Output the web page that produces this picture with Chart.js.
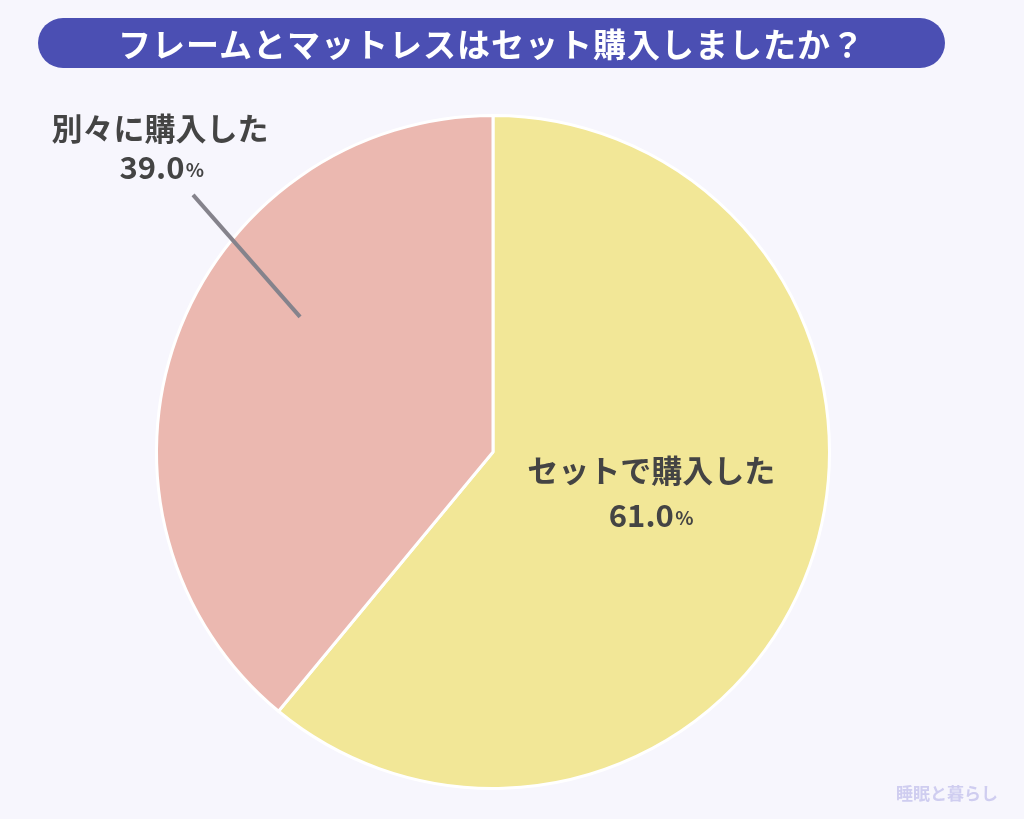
<!DOCTYPE html>
<html><head><meta charset="utf-8">
<script src="https://cdn.jsdelivr.net/npm/chart.js@4"></script>
<style>
body{margin:0;background:#f7f6fd;font-family:"Noto Sans CJK JP",sans-serif;}
#wrap{position:relative;width:1024px;height:819px;}
#title{position:absolute;left:38px;top:18px;width:907px;height:50px;border-radius:25px;background:#4b4fb3;color:#fff;font-weight:bold;font-size:33px;line-height:50px;text-align:center;letter-spacing:1px;}
#mark{position:absolute;left:896px;top:780px;color:#cfcdf0;font-size:17px;font-weight:bold;}
</style></head><body>
<div id="wrap">
<canvas id="c" width="1024" height="819"></canvas>
<div id="title">フレームとマットレスはセット購入しましたか？</div>
<div id="mark">睡眠と暮らし</div>
</div>
<script>
const categories = ["セットで購入した", "別々に購入した"];
const values = [61.0, 39.0];
const colors = ["#f2e797", "#ebb8b0"];

const labelPlugin = {
  id: "labels",
  afterDraw(chart) {
    const ctx = chart.ctx;
    const arcs = chart.getDatasetMeta(0).data;
    ctx.save();
    ctx.fillStyle = "#444";
    ctx.textAlign = "center";
    ctx.textBaseline = "middle";
    // inside label for first slice
    const a = arcs[0];
    const mid = (a.startAngle + a.endAngle) / 2;
    const r = a.outerRadius * 0.5;
    const x = a.x + r * Math.cos(mid), y = a.y + r * Math.sin(mid) - 18;
    ctx.font = "bold 31px 'Noto Sans CJK JP'";
    ctx.fillText(categories[0], x, y - 21);
    ctx.fillText(values[0].toFixed(1), x - 10, y + 24);
    ctx.font = "bold 19px 'Noto Sans CJK JP'";
    ctx.fillText("%", x + 33, y + 27);
    // outside label for second slice with leader line
    const b = arcs[1];
    const ang = 215 * Math.PI / 180;
    const x0 = b.x + b.outerRadius * 0.7 * Math.cos(ang), y0 = b.y + b.outerRadius * 0.7 * Math.sin(ang);
    ctx.strokeStyle = "#85838c";
    ctx.lineWidth = 4;
    ctx.beginPath();
    ctx.moveTo(x0, y0);
    ctx.lineTo(x0 - 107, y0 - 122);
    ctx.stroke();
    ctx.font = "bold 31px 'Noto Sans CJK JP'";
    ctx.fillText(categories[1], 160, 128);
    ctx.fillText(values[1].toFixed(1), 152, 167);
    ctx.font = "bold 19px 'Noto Sans CJK JP'";
    ctx.fillText("%", 195, 170);
    ctx.restore();
  }
};

new Chart(document.getElementById("c"), {
  type: "pie",
  data: {
    labels: categories,
    datasets: [{ data: values, backgroundColor: colors, borderColor: "#ffffff", borderWidth: 3 }]
  },
  options: {
    responsive: false,
    animation: false,
    layout: { padding: { left: 155, right: 193, top: 114, bottom: 29 } },
    plugins: { legend: { display: false }, tooltip: { enabled: false } }
  },
  plugins: [labelPlugin]
});
</script>
</body></html>
